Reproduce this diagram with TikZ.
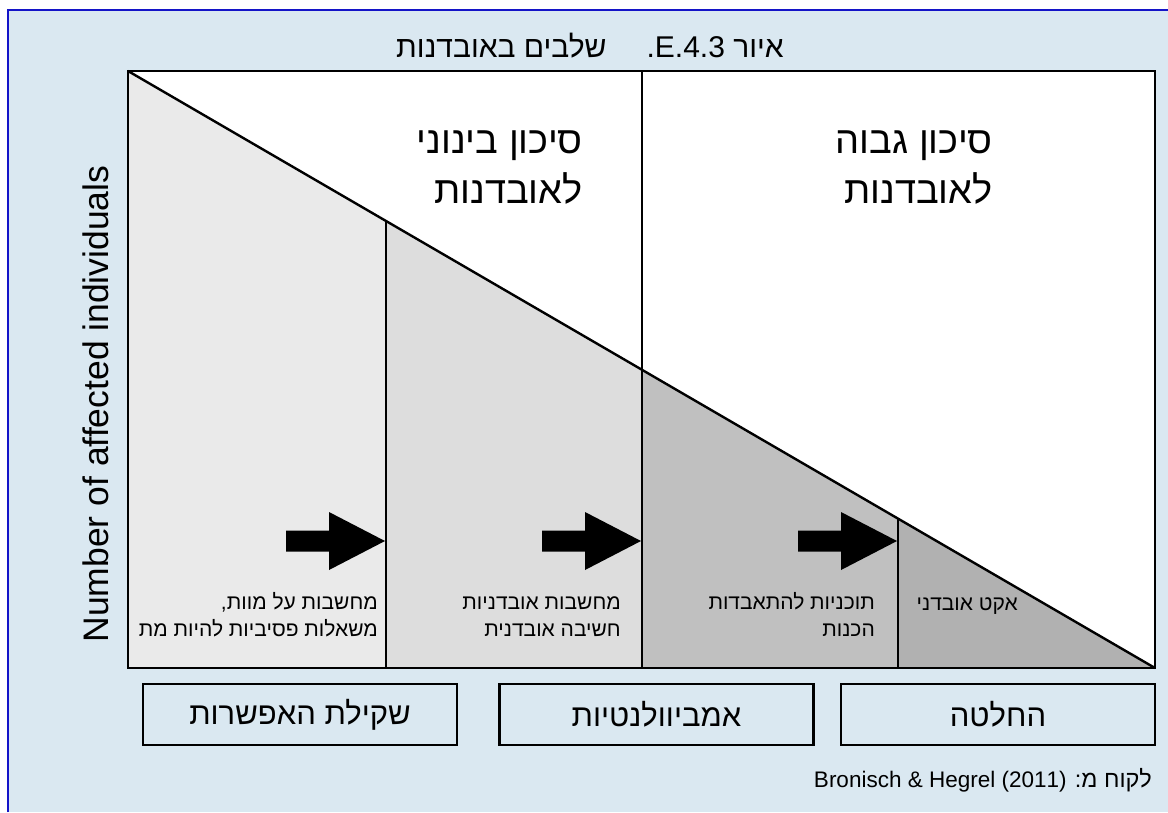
\documentclass[tikz,border=0pt]{standalone}
\usepackage{fontspec}
\setmainfont{Liberation Sans}
\newfontfamily\heb[Script=Hebrew]{Liberation Sans}
\TeXXeTstate=1
\definecolor{bgblue}{RGB}{218,232,241}
\definecolor{frameblue}{RGB}{20,20,200}
\definecolor{gA}{RGB}{234,234,234}
\definecolor{gB}{RGB}{221,221,221}
\definecolor{gC}{RGB}{192,192,192}
\definecolor{gD}{RGB}{177,177,177}
\tikzset{
  mainline/.style={line width=2.9pt, line join=miter},
  diagline/.style={line width=2.4pt},
  bigheb/.style={font=\heb\fontsize{38}{50}\selectfont, align=right, anchor=base east, inner sep=0pt},
  smallheb/.style={font=\heb\fontsize{21}{26.5}\selectfont, align=right, anchor=base east, inner sep=0pt},
  stagebox/.style={draw, line width=2.8pt, fill=bgblue, minimum width=314pt, minimum height=61pt, inner sep=0pt, font=\heb\fontsize{31}{34}\selectfont},
  bigarrow/.style={fill=black},
}
\begin{document}
\begin{tikzpicture}[x=1pt,y=-1pt]
\useasboundingbox (0,0) rectangle (1168,812);
\fill[white] (0,0) rectangle (1168,812);
\fill[bgblue] (8,10) rectangle (1168,812);
\draw[frameblue, line width=2.8pt] (8,812) -- (8,10) -- (1168,10);

% plot area
\coordinate (TL) at (128,71);
\coordinate (TR) at (1155,71);
\coordinate (BL) at (128,668);
\coordinate (BR) at (1155,668);
\coordinate (d1) at (386,221);
\coordinate (d2) at (642,370);
\coordinate (d3) at (898,519);
\coordinate (b1) at (386,668);
\coordinate (b2) at (642,668);
\coordinate (b3) at (898,668);
\coordinate (t2) at (642,71);

\fill[white] (TL) rectangle (BR);
\fill[gA] (TL) -- (d1) -- (b1) -- (BL) -- cycle;
\fill[gB] (d1) -- (d2) -- (b2) -- (b1) -- cycle;
\fill[gC] (d2) -- (d3) -- (b3) -- (b2) -- cycle;
\fill[gD] (d3) -- (BR) -- (b3) -- cycle;
\draw[diagline] (TL) -- (BR);
\draw[mainline] (d1) -- (b1);
\draw[mainline] (t2) -- (b2);
\draw[mainline] (d3) -- (b3);
\draw[mainline] (TL) rectangle (BR);

% arrows
\foreach \tx in {385,641,897}
  \fill[bigarrow, shift={(\tx,541)}] (-99,-10.5) -- (-56,-10.5) -- (-56,-29) -- (0,0) -- (-56,29) -- (-56,10.5) -- (-99,10.5) -- cycle;

% title
\node[anchor=base, inner sep=0pt, font=\heb\fontsize{30}{34}\selectfont] (title) at (590,57)
  {\beginR איור \beginL E.4.3\endL.\hspace*{40pt}שלבים באובדנות\endR};

% axis label
\node[rotate=90, inner sep=0pt, font=\fontsize{35.5}{40}\selectfont] (ylab) at (96,404) {Number of affected individuals};

% risk labels
\node[bigheb] (mid) at (583,203) {\beginR סיכון בינוני\endR\\\beginR לאובדנות\endR};
\node[bigheb] (high) at (993,203) {\beginR סיכון גבוה\endR\\\beginR לאובדנות\endR};

% stage descriptions
\node[smallheb] (s1) at (378,636) {\beginR מחשבות על מוות,\endR\\\beginR משאלות פסיביות להיות מת\endR};
\node[smallheb] (s2) at (621,636) {\beginR מחשבות אובדניות\endR\\\beginR חשיבה אובדנית\endR};
\node[smallheb] (s3) at (875,636) {\beginR תוכניות להתאבדות\endR\\\beginR הכנות\endR};
\node[smallheb] (s4) at (1018,610) {\beginR אקט אובדני\endR};

% stage boxes
\node[stagebox] (k1) at (300,714.5) {\beginR שקילת האפשרות\endR};
\node[stagebox] (k2) at (656.5,714.5) {\beginR אמביוולנטיות\endR};
\node[stagebox] (k3) at (998,714.5) {\beginR החלטה\endR};

% source
\node[anchor=base east, inner sep=0pt, font=\heb\fontsize{22.5}{26}\selectfont] (src) at (1152,787)
  {\beginR{\fontsize{23.5}{28}\selectfont לקוח מ:} \beginL Bronisch \& Hegrel (2011)\endL\endR};
\end{tikzpicture}
\end{document}
